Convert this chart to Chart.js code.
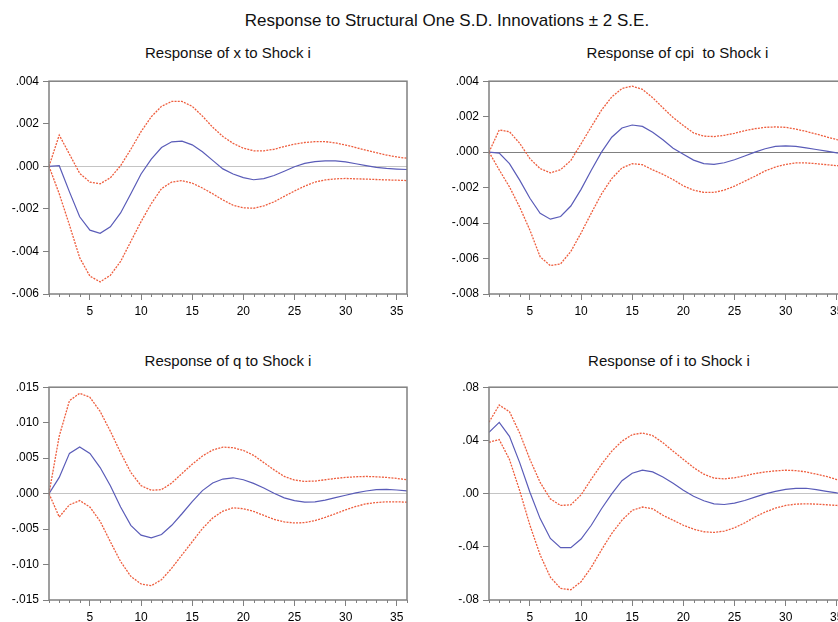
<!DOCTYPE html>
<html>
<head>
<meta charset="utf-8">
<title>Impulse responses</title>
<script src="https://cdn.jsdelivr.net/npm/chart.js@4.4.0/dist/chart.umd.min.js"></script>
<style>
  html, body { margin: 0; padding: 0; background: #fff; }
  body { position: relative; width: 838px; height: 622px; overflow: hidden;
         font-family: "Liberation Sans", Arial, sans-serif; color: #111; }
  .t { position: absolute; white-space: pre; line-height: 1; transform: translateX(-50%); }
  .main { font-size: 17px; top: 11.5px; left: 447px; }
  .sub { font-size: 15px; }
  canvas { position: absolute; }
</style>
</head>
<body>
<div class="t main">Response to Structural One S.D. Innovations ± 2 S.E.</div>
<div class="t sub" style="left:228px;top:44.5px">Response of x to Shock i</div>
<div class="t sub" style="left:677.5px;top:44.5px">Response of cpi  to Shock i</div>
<div class="t sub" style="left:228px;top:352.5px">Response of q to Shock i</div>
<div class="t sub" style="left:669px;top:352.5px">Response of i to Shock i</div>

<canvas id="c1" width="420" height="245" style="left:0;top:70px"></canvas>
<canvas id="c2" width="420" height="245" style="left:440px;top:70px"></canvas>
<canvas id="c3" width="420" height="245" style="left:0;top:376px"></canvas>
<canvas id="c4" width="420" height="245" style="left:440px;top:376px"></canvas>

<script>
// periods and tick labels
const periods = [1,2,3,4,5,6,7,8,9,10,11,12,13,14,15,16,17,18,19,20,21,22,23,24,25,26,27,28,29,30,31,32,33,34,35,36];
const periodLabels = [5, 10, 15, 20, 25, 30, 35];

// response of x
const xMid = [0, 0.00003, -0.0012, -0.00237, -0.0030, -0.00315, -0.00284, -0.00219, -0.00129, -0.00036, 0.00034, 0.00088, 0.00115, 0.00118, 0.00101, 0.00068, 0.00028, -0.00012, -0.00036, -0.00053, -0.00063, -0.00058, -0.00043, -0.00023, -0.00002, 0.00014, 0.00022, 0.00026, 0.00026, 0.00021, 0.00012, 0.00003, -0.00005, -0.0001, -0.00013, -0.00015];
const xUp = [0, 0.00147, 0.00057, -0.00033, -0.00074, -0.00082, -0.00054, 0.00003, 0.0008, 0.00163, 0.00233, 0.00282, 0.00305, 0.00305, 0.00282, 0.00236, 0.00184, 0.0014, 0.00108, 0.00085, 0.00073, 0.00073, 0.0008, 0.00093, 0.00104, 0.00112, 0.00116, 0.00116, 0.0011, 0.001, 0.00088, 0.00076, 0.00064, 0.00053, 0.00044, 0.00038];
const xLo = [0, -0.00129, -0.00276, -0.0043, -0.00516, -0.00543, -0.00512, -0.00447, -0.00353, -0.0026, -0.00175, -0.00105, -0.00074, -0.00067, -0.00079, -0.00102, -0.00129, -0.00158, -0.00183, -0.00195, -0.00197, -0.00186, -0.00167, -0.00141, -0.00116, -0.00093, -0.00074, -0.00064, -0.00059, -0.00057, -0.00059, -0.0006, -0.00062, -0.00064, -0.00065, -0.00067];
const xTicks = [-0.006, -0.004, -0.002, 0, 0.002, 0.004];

// response of cpi
const cpiMid = [0, -0.00006, -0.00065, -0.00158, -0.0026, -0.00345, -0.00378, -0.00363, -0.00304, -0.0021, -0.00102, 0, 0.00084, 0.00136, 0.00153, 0.00145, 0.00112, 0.0007, 0.00022, -0.00012, -0.00045, -0.00065, -0.00069, -0.0006, -0.00043, -0.00022, 0, 0.00019, 0.00032, 0.00035, 0.00032, 0.00024, 0.00015, 0.00006, -0.00004, -0.0001];
const cpiUp = [0, 0.00125, 0.00115, 0.0005, -0.00037, -0.00093, -0.00117, -0.00099, -0.00047, 0.00047, 0.00143, 0.00237, 0.00311, 0.00359, 0.00372, 0.00354, 0.00307, 0.0025, 0.00195, 0.0015, 0.00108, 0.0009, 0.00088, 0.00095, 0.00106, 0.00121, 0.00132, 0.0014, 0.00142, 0.0014, 0.0013, 0.00117, 0.00102, 0.00086, 0.00071, 0.0006];
const cpiLo = [0, -0.001, -0.00196, -0.0031, -0.0044, -0.0059, -0.0064, -0.0063, -0.0056, -0.00456, -0.00344, -0.00236, -0.00149, -0.00089, -0.00065, -0.00071, -0.001, -0.00125, -0.00155, -0.0019, -0.00214, -0.00227, -0.00227, -0.00214, -0.00192, -0.00164, -0.00136, -0.00106, -0.00084, -0.00069, -0.00061, -0.00061, -0.00065, -0.00071, -0.00076, -0.0008];
const cpiTicks = [-0.008, -0.006, -0.004, -0.002, 0, 0.002, 0.004];

// response of q
const qMid = [0, 0.00228, 0.00567, 0.00656, 0.00567, 0.00367, 0.00112, -0.0019, -0.00447, -0.00586, -0.00623, -0.00577, -0.00447, -0.00284, -0.00112, 0.00042, 0.00149, 0.00205, 0.00223, 0.00195, 0.00144, 0.00079, 0.00005, -0.0006, -0.001, -0.00121, -0.00116, -0.00093, -0.00056, -0.00023, 0.0001, 0.00037, 0.00056, 0.0006, 0.00051, 0.00037];
const qUp = [0, 0.0081, 0.0131, 0.01414, 0.01358, 0.01158, 0.00879, 0.00577, 0.00298, 0.00112, 0.00047, 0.00056, 0.00149, 0.00284, 0.00414, 0.0053, 0.00614, 0.00656, 0.00647, 0.00609, 0.0054, 0.00437, 0.00335, 0.00242, 0.00191, 0.00172, 0.00177, 0.00195, 0.00214, 0.00228, 0.00237, 0.00242, 0.00237, 0.00228, 0.00214, 0.00195];
const qLo = [0, -0.0033, -0.00158, -0.00098, -0.0019, -0.0039, -0.00679, -0.00958, -0.01167, -0.01274, -0.01298, -0.01214, -0.01051, -0.00865, -0.00679, -0.00493, -0.00344, -0.00247, -0.002, -0.00214, -0.00251, -0.00307, -0.00363, -0.004, -0.00414, -0.00409, -0.00381, -0.00335, -0.00284, -0.00228, -0.00181, -0.00144, -0.00126, -0.00116, -0.00116, -0.00121];
const qTicks = [-0.015, -0.010, -0.005, 0, 0.005, 0.010, 0.015];

// response of i
const iMid = [0.046, 0.0535, 0.0431, 0.0233, 0.001, -0.0188, -0.0337, -0.0406, -0.0406, -0.0342, -0.0238, -0.0114, -0.0002, 0.0097, 0.0153, 0.0176, 0.0163, 0.0125, 0.0078, 0.0025, -0.002, -0.0054, -0.0077, -0.0082, -0.0072, -0.0052, -0.0027, -0.0002, 0.0017, 0.0032, 0.004, 0.004, 0.003, 0.0017, 0.0005, -0.0005];
const iUp = [0.0537, 0.0666, 0.0616, 0.0455, 0.0257, 0.0084, -0.004, -0.0089, -0.0084, -0.001, 0.0109, 0.022, 0.0319, 0.0394, 0.0443, 0.0455, 0.0436, 0.0383, 0.0319, 0.0257, 0.0196, 0.0146, 0.0116, 0.0111, 0.0119, 0.0134, 0.0151, 0.0163, 0.0171, 0.0176, 0.0173, 0.0163, 0.0146, 0.0129, 0.0106, 0.009];
const iLo = [0.0386, 0.0406, 0.0257, 0.0022, -0.0238, -0.0461, -0.0629, -0.0713, -0.0723, -0.0663, -0.0554, -0.0423, -0.03, -0.02, -0.0126, -0.0101, -0.0114, -0.0163, -0.02, -0.0238, -0.0267, -0.0287, -0.0292, -0.0282, -0.0257, -0.022, -0.0176, -0.0139, -0.0109, -0.0089, -0.0079, -0.0077, -0.0079, -0.0084, -0.0089, -0.0095];
const iTicks = [-0.08, -0.04, 0, 0.04, 0.08];

const BLUE = "#5a5cb8";
const RED = "#ee5e3e";
const FRAME = "#808080";

Chart.defaults.font.family = "'Liberation Sans', Arial, sans-serif";
Chart.defaults.font.size = 12;
Chart.defaults.color = "#000";

// eviews style ".004" / "-.002"
const fmt = (v, d) => v.toFixed(d).replace(/^(-?)0\./, "$1.");

// box round the plot + the short minor ticks on the x axis
const framePlugin = {
  id: "frame",
  afterDraw(chart) {
    const { ctx, chartArea: a, scales } = chart;
    ctx.save();
    ctx.strokeStyle = FRAME;
    ctx.lineWidth = 1.5;
    ctx.strokeRect(a.left, a.top, a.right - a.left, a.bottom - a.top);
    ctx.lineWidth = 1;
    periods.forEach((p) => {
      if (periodLabels.includes(p)) return;
      const px = Math.round(scales.x.getPixelForValue(p)) + 0.5;
      ctx.beginPath();
      ctx.moveTo(px, a.bottom);
      ctx.lineTo(px, a.bottom + 3);
      ctx.stroke();
    });
    ctx.restore();
  },
};

const band = (vals) => ({
  data: periods.map((p, k) => ({ x: p, y: vals[k] })),
  borderColor: RED,
  borderWidth: 1.3,
  borderDash: [2, 1.2],
  pointRadius: 0,
  tension: 0,
  fill: false,
});

function makePanel(id, mid, up, lo, yTicks, decimals, zeroColor) {
  const ctx = document.getElementById(id).getContext("2d");
  return new Chart(ctx, {
    type: "line",
    data: {
      datasets: [
        band(up),
        band(lo),
        {
          data: periods.map((p, k) => ({ x: p, y: mid[k] })),
          borderColor: BLUE,
          borderWidth: 1.2,
          pointRadius: 0,
          tension: 0,
          fill: false,
        },
      ],
    },
    options: {
      responsive: false,
      animation: false,
      devicePixelRatio: 1,
      layout: { padding: { top: 9, right: 13, bottom: 0, left: 0 } },
      plugins: { legend: { display: false }, tooltip: { enabled: false } },
      scales: {
        x: {
          type: "linear",
          min: periods[0],
          max: periods[periods.length - 1],
          afterBuildTicks: (s) => { s.ticks = periods.map((v) => ({ value: v })); },
          afterFit: (s) => { s.height = 21; },
          border: { display: false },
          grid: {
            drawOnChartArea: false,
            tickLength: 6,
            tickColor: (c) => (periodLabels.includes(c.tick.value) ? FRAME : "transparent"),
          },
          ticks: {
            autoSkip: false,
            maxRotation: 0,
            padding: 4,
            callback: (v) => (periodLabels.includes(v) ? String(v) : ""),
          },
        },
        y: {
          min: yTicks[0],
          max: yTicks[yTicks.length - 1],
          afterBuildTicks: (s) => { s.ticks = yTicks.map((v) => ({ value: v })); },
          afterFit: (s) => { s.width = 49; },
          border: { display: false },
          grid: {
            tickLength: 6,
            tickColor: FRAME,
            lineWidth: 1,
            color: (c) => (c.tick && c.tick.value === 0 ? zeroColor : "transparent"),
          },
          ticks: { padding: 4, callback: (v) => fmt(v, decimals) },
        },
      },
    },
    plugins: [framePlugin],
  });
}

makePanel("c1", xMid, xUp, xLo, xTicks, 3, "#c4c4c4");
makePanel("c2", cpiMid, cpiUp, cpiLo, cpiTicks, 3, "#808080");
makePanel("c3", qMid, qUp, qLo, qTicks, 3, "#c4c4c4");
makePanel("c4", iMid, iUp, iLo, iTicks, 2, "#c4c4c4");
</script>
</body>
</html>
